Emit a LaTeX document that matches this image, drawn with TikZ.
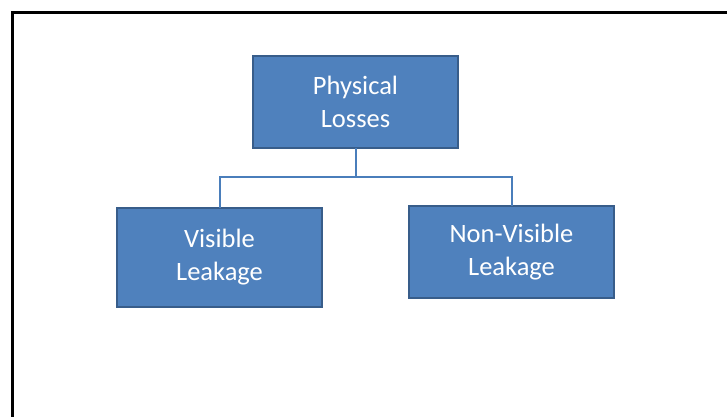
\documentclass[tikz,border=0pt]{standalone}
\usepackage{fontspec}
\setmainfont{Carlito}
\usepackage{xcolor}
\definecolor{boxfill}{RGB}{79,129,189}
\definecolor{boxedge}{RGB}{56,93,138}
\definecolor{linkblue}{RGB}{74,126,187}
\tikzset{
    lab/.style={
        font=\fontsize{26.5}{33}\selectfont
    }
}

\begin{document}
\begin{tikzpicture}[x=1pt,y=-1pt, line cap=rect, line join=miter]

% box + connector styles
\tikzset{
  cat/.style={rectangle, draw=boxedge, fill=boxfill, line width=2pt, text=white,
    align=center, inner sep=0pt, minimum width=205pt, lab},
  link/.style={draw=linkblue, line width=2pt},
  frame/.style={draw=black, line width=3pt},
}

  % page and outer frame
  \clip (0,0) rectangle (727,416);
  \fill[white] (0,0) rectangle (727,416);
  \draw[frame] (12.5,12.5) rectangle (760,460);

  % categories
  \node[cat, minimum height=92pt] (phys) at (355.5,102) {Physical\\Losses};
  \node[cat, minimum height=99pt] (vis) at (219.5,257.5) {Visible\\Leakage};
  \node[cat, minimum height=92pt] (nonvis) at (511.5,252) {Non-Visible\\Leakage};

  % connectors
  \coordinate (split) at (355.5,177);
  \draw[link] (phys.south) -- (split) -| (vis.north);
  \draw[link] (split) -| (nonvis.north);

\end{tikzpicture}
\end{document}
